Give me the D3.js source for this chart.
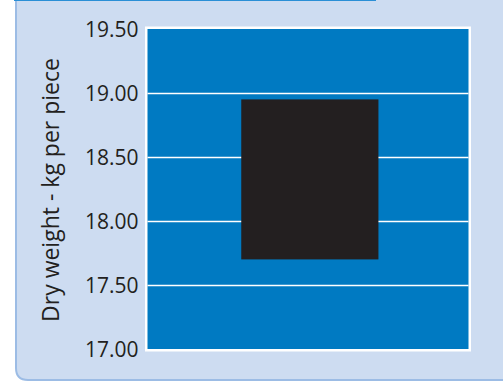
<!DOCTYPE html>
<html><head><meta charset="utf-8">
<script src="https://cdn.jsdelivr.net/npm/d3@7"></script>
<style>html,body{margin:0;padding:0;background:#fff;}svg{display:block;}</style>
</head><body>
<svg id="c" width="503" height="381"></svg>
<script>
const categories = ["Sample"];
const lowValues = [17.70];
const highValues = [18.95];
const yTicks = [17.00, 17.50, 18.00, 18.50, 19.00, 19.50];
const yLabel = "Dry weight - kg per piece";

const svg = d3.select("#c");
// panel
svg.append("path")
  .attr("d", "M16,-5 L16,368 Q16,380 28,380 L520,380 L520,-5 Z")
  .attr("fill", "#CDDCF1").attr("stroke", "#9CBCE5").attr("stroke-width", 2);
svg.append("path")
  .attr("d", "M14,-3 L370,-3 Q376,-3 376,1 L14,1 Z")
  .attr("fill", "#2A8FD6");

const plot = {x0: 147.5, x1: 468.5, y0: 29, y1: 349};
const y = d3.scaleLinear().domain([17, 19.5]).range([plot.y1, plot.y0]);
const x = d3.scaleBand().domain(categories).range([plot.x0, plot.x1]).paddingInner(0).paddingOuter(0.67).align(0.51);

// white frame
svg.append("rect").attr("x", plot.x0 - 2.5).attr("y", plot.y0 - 2.5)
  .attr("width", plot.x1 - plot.x0 + 5).attr("height", plot.y1 - plot.y0 + 5).attr("fill", "#fff");
svg.append("rect").attr("x", plot.x0).attr("y", plot.y0)
  .attr("width", plot.x1 - plot.x0).attr("height", plot.y1 - plot.y0).attr("fill", "#007AC2");

// gridlines
const grid = svg.append("g").attr("transform", `translate(${plot.x0},0)`)
  .call(d3.axisLeft(y).tickValues(yTicks.filter(v => v > 17 && v < 19.5)).tickSize(-(plot.x1 - plot.x0)).tickFormat(""));
grid.select(".domain").remove();
grid.selectAll("line").attr("stroke", "#fff").attr("stroke-width", 1.3);

// bars
svg.append("g").selectAll("rect").data(categories).join("rect")
  .attr("x", d => x(d))
  .attr("width", x.bandwidth())
  .attr("y", (d, i) => y(highValues[i]))
  .attr("height", (d, i) => y(lowValues[i]) - y(highValues[i]))
  .attr("fill", "#231F20");

// axis labels
const ax = svg.append("g").attr("transform", `translate(${plot.x0 - 3},0)`)
  .call(d3.axisLeft(y).tickValues(yTicks).tickSize(0).tickPadding(6).tickFormat(d3.format(".2f")));
ax.select(".domain").remove();
ax.selectAll("text").attr("font-family", "Open Sans").attr("font-size", 21).attr("fill", "#231F20").attr("dy", "0.36em");

svg.append("text")
  .attr("transform", "translate(59,190) rotate(-90)")
  .attr("text-anchor", "middle")
  .attr("font-family", "Open Sans").attr("font-size", 23).attr("fill", "#231F20")
  .text(yLabel);
</script>
</body></html>
